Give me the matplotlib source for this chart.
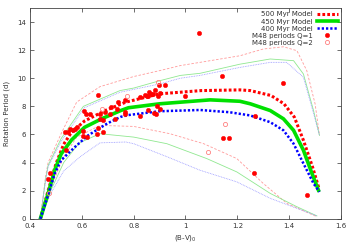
import matplotlib
matplotlib.use("Agg")
import matplotlib.pyplot as plt

# ---- model curves ----
bv_500 = [0.44, 0.47, 0.50, 0.53, 0.56, 0.61, 0.69, 0.77, 0.90, 1.06, 1.21, 1.25, 1.33, 1.38, 1.42, 1.455, 1.49, 1.515]
p_500 = [0.0, 2.0, 3.9, 5.3, 6.15, 6.95, 7.7, 8.3, 8.89, 9.12, 9.17, 9.12, 8.77, 8.18, 7.23, 5.58, 3.69, 2.15]

bv_450 = [0.44, 0.47, 0.495, 0.52, 0.56, 0.61, 0.675, 0.75, 0.78, 0.90, 1.095, 1.21, 1.25, 1.327, 1.378, 1.417, 1.455, 1.488, 1.513]
p_450 = [0.0, 1.8, 3.45, 4.6, 5.6, 6.5, 7.1, 7.7, 7.9, 8.18, 8.46, 8.36, 8.18, 7.7, 7.11, 6.29, 4.87, 3.22, 2.03]

bv_400 = [0.44, 0.47, 0.495, 0.52, 0.573, 0.624, 0.70, 0.75, 0.78, 0.90, 1.056, 1.17, 1.25, 1.327, 1.378, 1.417, 1.455, 1.494, 1.517]
p_400 = [0.0, 1.7, 3.2, 4.16, 5.1, 5.93, 6.8, 7.25, 7.38, 7.65, 7.74, 7.58, 7.35, 6.87, 6.29, 5.34, 3.93, 2.51, 1.91]

# upper envelopes
bv_500_up = [0.44, 0.46, 0.47, 0.52, 0.58, 0.67, 0.80, 0.90, 0.98, 1.056, 1.21, 1.30, 1.378, 1.43, 1.468, 1.50, 1.517]
p_500_up = [0.0, 3.0, 4.0, 6.05, 8.3, 9.4, 10.12, 10.54, 10.9, 11.13, 11.6, 12.08, 12.24, 11.96, 10.54, 8.18, 5.93]

bv_450_up = [0.44, 0.46, 0.47, 0.52, 0.606, 0.747, 0.80, 0.902, 0.98, 1.056, 1.21, 1.327, 1.417, 1.455, 1.494, 1.517]
p_450_up = [0.0, 2.8, 3.8, 5.7, 8.0, 9.12, 9.3, 9.83, 10.2, 10.35, 11.0, 11.37, 11.25, 10.3, 7.7, 5.93]

bv_400_up = [0.44, 0.46, 0.47, 0.52, 0.61, 0.747, 0.902, 0.98, 1.056, 1.21, 1.327, 1.39, 1.455, 1.494, 1.517]
p_400_up = [0.0, 2.7, 3.7, 5.5, 7.9, 9.0, 9.6, 10.0, 10.2, 10.77, 11.13, 11.13, 10.07, 7.5, 5.93]

# lower envelopes
bv_500_lo = [0.44, 0.48, 0.53, 0.58, 0.67, 0.80, 0.94, 1.07, 1.198, 1.30, 1.391, 1.507]
p_500_lo = [0.0, 2.2, 4.4, 5.8, 6.64, 6.57, 6.05, 5.34, 4.28, 2.51, 1.09, 0.14]

bv_450_lo = [0.44, 0.48, 0.53, 0.59, 0.67, 0.80, 0.928, 1.082, 1.198, 1.327, 1.43, 1.507]
p_450_lo = [0.0, 2.0, 4.0, 5.4, 6.05, 5.81, 5.34, 4.28, 3.33, 1.8, 0.85, 0.2]

bv_400_lo = [0.44, 0.48, 0.53, 0.593, 0.67, 0.77, 0.80, 0.93, 1.056, 1.198, 1.327, 1.507]
p_400_lo = [0.0, 1.8, 3.4, 4.4, 5.4, 5.46, 5.34, 4.4, 3.45, 2.62, 1.45, 0.2]

# ---- M48 periods ----
bv_q1 = [0.469, 0.476, 0.534, 0.545, 0.553, 0.567, 0.54, 0.608, 0.605, 0.621, 0.606,
         0.657, 0.682, 0.661, 0.669, 0.688, 0.714, 0.74, 0.766, 0.664, 0.616, 0.67,
         0.683, 0.709, 0.735, 0.728, 0.767, 0.63, 0.58, 0.574,
         0.825, 0.85, 0.844, 0.857, 0.865, 0.876, 0.895, 0.902, 0.883, 0.898, 0.919,
         0.86, 0.998, 0.889, 0.854, 0.88, 0.885, 0.902, 0.825, 0.767,
         1.054, 1.142, 1.378, 1.269, 1.146, 1.169, 1.265, 1.47]
p_q1 = [2.86, 3.22, 6.17, 6.2, 6.4, 6.3, 4.87, 7.65, 6.24, 5.81, 5.86,
        6.0, 6.17, 6.47, 7.11, 7.58, 7.94, 8.3, 8.46, 8.81, 7.47, 7.47,
        7.0, 7.47, 7.82, 7.11, 7.47, 7.47, 6.5, 6.4,
        8.65, 8.77, 8.81, 8.7, 8.85, 8.89, 8.7, 8.93, 9.19, 9.55, 9.55,
        9.0, 8.77, 7.99, 7.75, 7.51, 7.47, 7.82, 7.3, 7.58,
        13.24, 10.18, 9.64, 7.28, 5.77, 5.77, 3.22, 1.68]

bv_q2 = [0.473, 0.776, 0.677, 0.893, 1.153, 1.086]
p_q2 = [1.8, 8.7, 7.82, 9.76, 6.76, 4.75]

x_ticks = [0.4, 0.6, 0.8, 1.0, 1.2, 1.4, 1.6]
x_tick_labels = ["0.4", "0.6", "0.8", "1", "1.2", "1.4", "1.6"]
y_ticks = [0, 2, 4, 6, 8, 10, 12, 14]

fig = plt.figure(figsize=(3.54, 2.48), dpi=100)
ax = fig.add_axes([30/354, 29.3/248, 311/354, 210.7/248])

c_red, c_green, c_blue = "#ff0000", "#00e000", "#0000ff"
lr, lg, lb = "#ff9a9a", "#90e890", "#9a9aff"

ax.plot(bv_500_up, p_500_up, color=lr, lw=0.6, ls=(0, (3, 2)))
ax.plot(bv_500_lo, p_500_lo, color=lr, lw=0.6, ls=(0, (3, 2)))
ax.plot(bv_450_up, p_450_up, color=lg, lw=0.6, ls="-")
ax.plot(bv_450_lo, p_450_lo, color=lg, lw=0.6, ls="-")
ax.plot(bv_400_up, p_400_up, color=lb, lw=0.6, ls=(0, (1, 1)))
ax.plot(bv_400_lo, p_400_lo, color=lb, lw=0.6, ls=(0, (1, 1)))

ax.plot(bv_500, p_500, color=c_red, lw=2.2, ls=(0, (0.9, 0.7)), label="500 Myr Model")
ax.plot(bv_450, p_450, color=c_green, lw=2.6, ls="-", label="450 Myr Model")
ax.plot(bv_400, p_400, color=c_blue, lw=1.8, ls=(0, (0.9, 0.8)), label="400 Myr Model")

ax.plot(bv_q1, p_q1, ls="none", marker="o", ms=3.2, mfc=c_red, mec=c_red, mew=0.3,
        label="M48 periods Q=1")
ax.plot(bv_q2, p_q2, ls="none", marker="o", ms=3.0, mfc="none", mec="#ff8080", mew=0.6,
        label="M48 periods Q=2")

ax.set_xlim(0.4, 1.6)
ax.set_ylim(0, 15)
ax.set_xticks(x_ticks)
ax.set_xticklabels(x_tick_labels)
ax.set_yticks(y_ticks)
ax.tick_params(direction="in", length=3, width=0.5, labelsize=5, colors="#333333",
               top=True, right=True, pad=3)
for s in ax.spines.values():
    s.set_linewidth(0.6)
    s.set_color("#444444")

ax.set_xlabel("(B-V)$_0$", fontsize=5, color="#333333", labelpad=3)
ax.set_ylabel("Rotation Period (d)", fontsize=5, color="#333333", labelpad=5)

leg = ax.legend(loc="upper right", frameon=False, markerfirst=False, fontsize=5,
                handlelength=3.0, handletextpad=0.6, labelspacing=0.15,
                borderaxespad=0.3, borderpad=0.2)
for t in leg.get_texts():
    t.set_color("#333333")

fig.savefig("out.png", dpi=100)
